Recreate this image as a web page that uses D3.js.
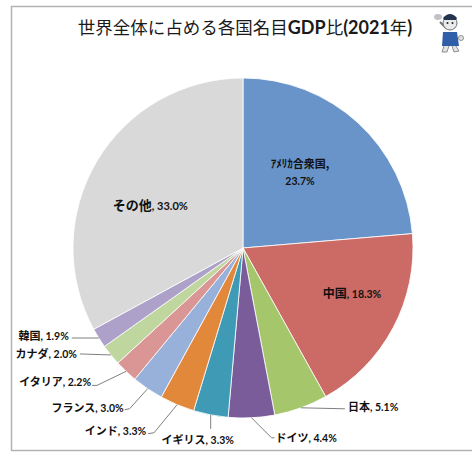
<!DOCTYPE html>
<html>
<head>
<meta charset="utf-8">
<script src="https://cdn.jsdelivr.net/npm/d3@7/dist/d3.min.js"></script>
<style>
  html, body { margin: 0; padding: 0; background: #fff; }
  svg { display: block; }
</style>
</head>
<body>
<svg id="chart" width="472" height="452"></svg>
<script>
// Share of world nominal GDP, 2021 (%)
const countries = ["ｱﾒﾘｶ合衆国", "中国", "日本", "ドイツ", "イギリス", "インド", "フランス", "イタリア", "カナダ", "韓国", "その他"];
const shares    = [23.7, 18.3, 5.1, 4.4, 3.3, 3.3, 3.0, 2.2, 2.0, 1.9, 33.0];
const colors    = ["#6894CA", "#CC6A66", "#A6C66C", "#7A5C9B", "#3F9BB5", "#E2883A", "#97B1DB", "#D99695", "#BFD69E", "#ADA1CA", "#D9D9D9"];
const titleParts = [
  { t: "世界全体に占める各国名目", latin: false },
  { t: "GDP", latin: true },
  { t: "比", latin: false },
  { t: "(2021", latin: true },
  { t: "年", latin: false },
  { t: ")", latin: true }
];

// Label placement: inside labels are nudged from the slice centroid,
// outside labels get a leader from the rim to an elbow then the text.
const insideLabels = {
  0: { dx: -12, dy: -2, lines: true, jp: 11, num: 10.5 },
  1: { dx: 19, dy: -4, jp: 12, num: 10.5 },
  10: { dx: -5, dy: 8, jp: 13, num: 11 }
};
const outsideLabels = {
  2: { pts: [[44, 1]], side: "start", tx: 3, ty: -3 },
  3: { pts: [[20, 20], [23, 20]], side: "start", tx: 1, ty: -1 },
  4: { pts: [[0, 14]], side: "middle", tx: -13, ty: 9 },
  5: { pts: [[-23, 28], [-29, 29]], side: "end", tx: -2, ty: -4 },
  6: { pts: [[-18, 20], [-23, 21]], side: "end", tx: -1, ty: -3 },
  7: { pts: [[-29, 14], [-34, 14]], side: "end", tx: -1, ty: -5 },
  8: { pts: [[-31, -1]], side: "end", tx: -3, ty: -2 },
  9: { pts: [[-27, 0]], side: "end", tx: -3, ty: -4 }
};

const svg = d3.select("#chart");
const JP = "'Noto Sans CJK JP', 'Noto Sans', sans-serif";
const LAT = "Lato, 'Liberation Sans', sans-serif";

// frame
svg.append("path")
  .attr("d", "M472,6.5 H11.5 V450.5 H472")
  .attr("fill", "none").attr("stroke", "#b3b3b3").attr("stroke-width", 1.5);

// title
const title = svg.append("text")
  .attr("x", 245).attr("y", 34)
  .attr("text-anchor", "middle")
  .attr("fill", "#1a1a1a");
titleParts.forEach(p => {
  title.append("tspan")
    .attr("font-family", p.latin ? LAT : JP)
    .attr("font-weight", p.latin ? 700 : 400)
    .attr("font-size", p.latin ? 18 : 17.5)
    .text(p.t);
});

// small mascot figure
const m = svg.append("g").attr("transform", "translate(450,30)");
m.append("ellipse").attr("cx", -12).attr("cy", -13).attr("rx", 4).attr("ry", 3).attr("fill", "#bfc3c6");
m.append("path").attr("d", "M-10,-8 L-4,-2").attr("stroke", "#6d7378").attr("stroke-width", 2);
m.append("path").attr("d", "M-7,2 L7,2 L9,16 L-8,16 Z").attr("fill", "#2f5fa8");
m.append("circle").attr("cx", 0).attr("cy", -7).attr("r", 7).attr("fill", "#e8eaec").attr("stroke", "#6f7479").attr("stroke-width", 1);
m.append("path").attr("d", "M-7,-12 Q0,-20 7,-12 L6,-10 L-6,-10 Z").attr("fill", "#24344f");
m.append("circle").attr("cx", -2.5).attr("cy", -7).attr("r", 1).attr("fill", "#222");
m.append("circle").attr("cx", 2.5).attr("cy", -7).attr("r", 1).attr("fill", "#222");
m.append("path").attr("d", "M-6,16 L-8,22 L-3,22 L-1,16 M2,16 L4,22 L9,21 L6,16").attr("fill", "#e1e3e5").attr("stroke", "#777").attr("stroke-width", 0.8);
m.append("circle").attr("cx", 11).attr("cy", 8).attr("r", 2.5).attr("fill", "#e1e3e5").attr("stroke", "#777").attr("stroke-width", 0.8);

// pie
const cx = 243, cy = 248, R = 170;
const data = countries.map((c, i) => ({ name: c, value: shares[i], color: colors[i], i }));
const pie = d3.pie().sort(null).value(d => d.value);
const arcs = pie(data);
const arc = d3.arc().innerRadius(0).outerRadius(R);
const labelArc = d3.arc().innerRadius(R * 0.6).outerRadius(R * 0.6);

const g = svg.append("g").attr("transform", `translate(${cx},${cy})`);
g.selectAll("path.slice").data(arcs).join("path")
  .attr("class", "slice")
  .attr("d", arc)
  .attr("fill", d => d.data.color)
  .attr("stroke", "#ffffff").attr("stroke-width", 0.8);

const fmt = v => v.toFixed(1) + "%";

// inside labels
arcs.forEach(a => {
  const cfg = insideLabels[a.data.i];
  if (!cfg) return;
  const [x, y] = labelArc.centroid(a);
  const t = g.append("text")
    .attr("x", x + cfg.dx).attr("y", y + cfg.dy)
    .attr("text-anchor", "middle")
    .attr("fill", "#111");
  if (cfg.lines) {
    t.append("tspan").attr("x", x + cfg.dx).attr("dy", "-0.25em")
      .attr("font-family", JP).attr("font-weight", 700).attr("font-size", cfg.jp)
      .text(a.data.name + ",");
    t.append("tspan").attr("x", x + cfg.dx).attr("dy", "1.6em")
      .attr("font-family", LAT).attr("font-weight", 700).attr("font-size", cfg.num)
      .text(fmt(a.data.value));
  } else {
    t.attr("dy", "0.35em");
    t.append("tspan").attr("font-family", JP).attr("font-weight", 700).attr("font-size", cfg.jp)
      .text(a.data.name);
    t.append("tspan").attr("font-family", LAT).attr("font-weight", 700).attr("font-size", cfg.num)
      .text(", " + fmt(a.data.value));
  }
});

// outside labels with leader lines
arcs.forEach(a => {
  const cfg = outsideLabels[a.data.i];
  if (!cfg) return;
  const mid = (a.startAngle + a.endAngle) / 2;
  const sx = Math.sin(mid) * R, sy = -Math.cos(mid) * R;
  const pts = [[sx, sy]].concat(cfg.pts.map(p => [sx + p[0], sy + p[1]]));
  g.append("path")
    .attr("d", d3.line()(pts))
    .attr("fill", "none").attr("stroke", "#808080").attr("stroke-width", 1);
  const end = pts[pts.length - 1];
  const t = g.append("text")
    .attr("x", end[0] + cfg.tx).attr("y", end[1] + cfg.ty)
    .attr("dy", "0.35em")
    .attr("text-anchor", cfg.side)
    .attr("fill", "#111");
  t.append("tspan").attr("font-family", JP).attr("font-weight", 700).attr("font-size", 11)
    .text(a.data.name);
  t.append("tspan").attr("font-family", LAT).attr("font-weight", 700).attr("font-size", 10.5)
    .text(", " + fmt(a.data.value));
});
</script>
</body>
</html>
